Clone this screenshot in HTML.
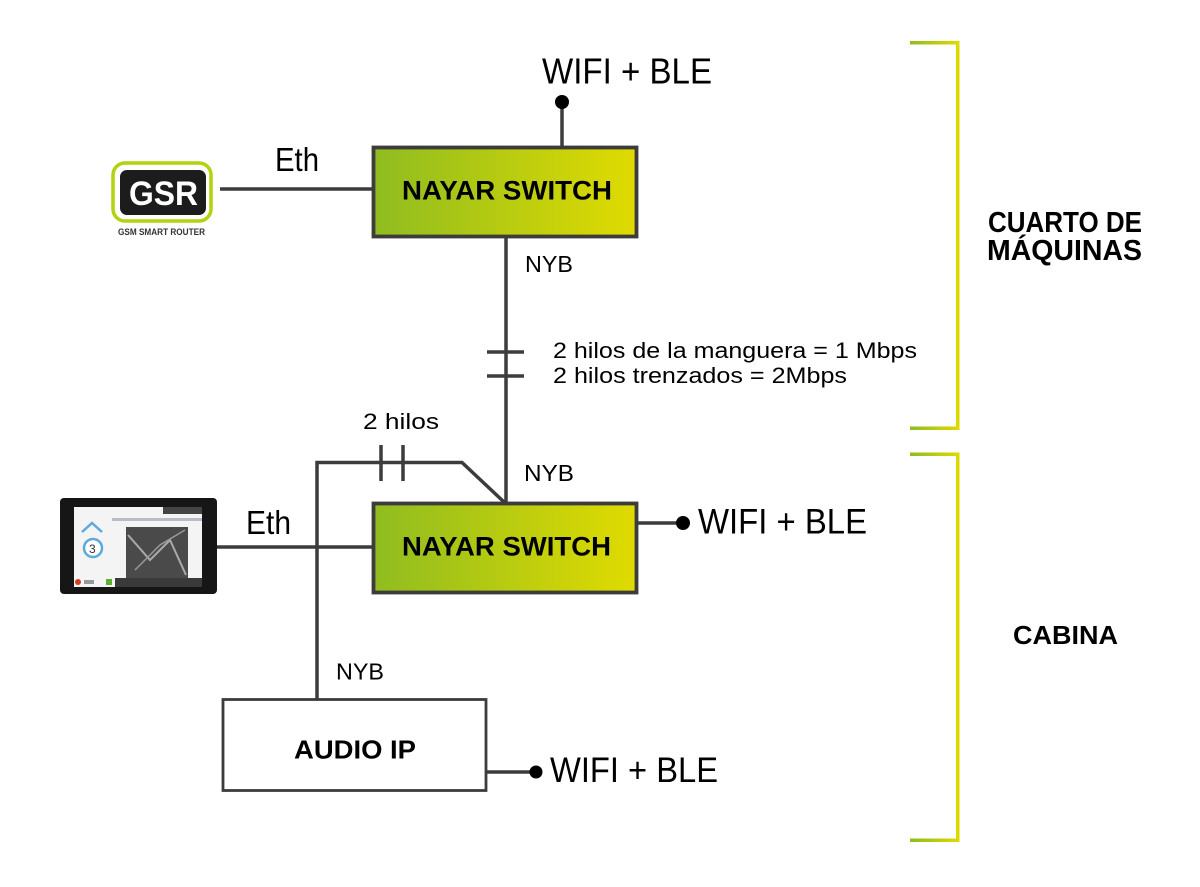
<!DOCTYPE html>
<html>
<head>
<meta charset="utf-8">
<style>
  html,body{margin:0;padding:0;background:#fff;}
  svg{display:block;}
  text{font-family:"Liberation Sans", sans-serif;}
</style>
</head>
<body>
<svg width="1200" height="887" viewBox="0 0 1200 887" xmlns="http://www.w3.org/2000/svg">
  <defs>
    <linearGradient id="sw" x1="0" y1="0" x2="1" y2="0">
      <stop offset="0" stop-color="#8fbc20"/>
      <stop offset="1" stop-color="#e0db00"/>
    </linearGradient>
    <linearGradient id="br" x1="0" y1="0" x2="1" y2="0">
      <stop offset="0" stop-color="#8fbc20"/>
      <stop offset="1" stop-color="#dcd900"/>
    </linearGradient>
  </defs>

  <!-- Brackets -->
  <rect x="910" y="41" width="48" height="3.5" fill="url(#br)"/>
  <rect x="910" y="426.5" width="48" height="3.5" fill="url(#br)"/>
  <rect x="956" y="41" width="3.5" height="389" fill="#dcd900"/>
  <rect x="910" y="452.5" width="48" height="3.5" fill="url(#br)"/>
  <rect x="910" y="838.5" width="48" height="3.5" fill="url(#br)"/>
  <rect x="956" y="452.5" width="3.5" height="389.5" fill="#dcd900"/>

  <text x="988" y="232" font-size="29" font-weight="bold" textLength="154" lengthAdjust="spacingAndGlyphs">CUARTO DE</text>
  <text x="987" y="260" font-size="29" font-weight="bold" textLength="155" lengthAdjust="spacingAndGlyphs">MÁQUINAS</text>
  <text x="1013" y="644" font-size="26" font-weight="bold" textLength="105" lengthAdjust="spacingAndGlyphs">CABINA</text>

  <!-- Connectors -->
  <g stroke="#3c3c3c" stroke-width="3.5" fill="none">
    <line x1="220" y1="189" x2="373" y2="189"/>
    <line x1="562" y1="102" x2="562" y2="147"/>
    <line x1="506" y1="237" x2="506" y2="503"/>
    <line x1="487" y1="352" x2="524" y2="352"/>
    <line x1="487" y1="376" x2="524" y2="376"/>
    <polyline points="317,699 317,462.5 462,462.5 504,502"/>
    <line x1="381" y1="445" x2="381" y2="481"/>
    <line x1="403" y1="445" x2="403" y2="481"/>
    <line x1="216" y1="547" x2="373" y2="547"/>
    <line x1="637" y1="523" x2="683" y2="523"/>
    <line x1="486" y1="772" x2="535" y2="772"/>
  </g>
  <circle cx="562" cy="102" r="7" fill="#000"/>
  <circle cx="683" cy="523" r="7" fill="#000"/>
  <circle cx="536" cy="772" r="6.5" fill="#000"/>

  <!-- Switch boxes -->
  <rect x="373.5" y="147.5" width="263" height="89" fill="url(#sw)" stroke="#3c3c3c" stroke-width="3.8"/>
  <text x="402" y="199.5" font-size="27" font-weight="bold" textLength="210" lengthAdjust="spacingAndGlyphs">NAYAR SWITCH</text>

  <rect x="373.5" y="503.5" width="263" height="89" fill="url(#sw)" stroke="#3c3c3c" stroke-width="3.8"/>
  <text x="402" y="555.5" font-size="27" font-weight="bold" textLength="209" lengthAdjust="spacingAndGlyphs">NAYAR SWITCH</text>

  <!-- Audio box -->
  <rect x="223" y="699.5" width="263" height="91" fill="#fff" stroke="#3c3c3c" stroke-width="2.8"/>
  <text x="294" y="758.5" font-size="26" font-weight="bold" textLength="122" lengthAdjust="spacingAndGlyphs">AUDIO IP</text>

  <!-- Labels -->
  <text x="542" y="83.5" font-size="36" textLength="170" lengthAdjust="spacingAndGlyphs">WIFI + BLE</text>
  <text x="698" y="533.5" font-size="35" textLength="169" lengthAdjust="spacingAndGlyphs">WIFI + BLE</text>
  <text x="550" y="782" font-size="35" textLength="168" lengthAdjust="spacingAndGlyphs">WIFI + BLE</text>

  <text x="275" y="171" font-size="33" textLength="44" lengthAdjust="spacingAndGlyphs">Eth</text>
  <text x="246" y="534" font-size="33" textLength="45" lengthAdjust="spacingAndGlyphs">Eth</text>

  <text x="525" y="272" font-size="23" textLength="48" lengthAdjust="spacingAndGlyphs">NYB</text>
  <text x="524" y="481" font-size="23" textLength="50" lengthAdjust="spacingAndGlyphs">NYB</text>
  <text x="336" y="679.5" font-size="23" textLength="48" lengthAdjust="spacingAndGlyphs">NYB</text>

  <text x="363" y="429" font-size="22" textLength="76" lengthAdjust="spacingAndGlyphs">2 hilos</text>
  <text x="553" y="358" font-size="22" textLength="364" lengthAdjust="spacingAndGlyphs">2 hilos de la manguera = 1 Mbps</text>
  <text x="553" y="383" font-size="22" textLength="294" lengthAdjust="spacingAndGlyphs">2 hilos trenzados = 2Mbps</text>

  <!-- GSR logo -->
  <rect x="113" y="163" width="98" height="58" rx="12" fill="none" stroke="#b4d20f" stroke-width="3.5"/>
  <rect x="120" y="170" width="86" height="45" rx="7" fill="#1c1c1c"/>
  <text x="129" y="205" font-size="34" font-weight="bold" fill="#fff" textLength="69" lengthAdjust="spacingAndGlyphs">GSR</text>
  <text x="118" y="235" font-size="9" font-weight="bold" fill="#333" textLength="87" lengthAdjust="spacingAndGlyphs">GSM SMART ROUTER</text>

  <!-- Tablet -->
  <rect x="60" y="498" width="157" height="96" rx="4" fill="#161616"/>
  <rect x="74" y="507" width="128" height="80" fill="#f4f4f4"/>
  <rect x="163" y="507" width="39" height="7" fill="#444"/>
  <rect x="112" y="518" width="90" height="3" fill="#b8bcc8"/>
  <path d="M82,532 L92,523 L102,532" fill="none" stroke="#5aa9e0" stroke-width="2.5"/>
  <circle cx="93" cy="548" r="9" fill="#fff" stroke="#5aa9e0" stroke-width="2.5"/>
  <text x="89" y="553" font-size="12" fill="#333">3</text>
  <rect x="126" y="527" width="62" height="52" fill="#4a4a4a"/>
  <path d="M128,535 L150,560 L170,540 L186,575" fill="none" stroke="#aaa" stroke-width="2"/>
  <path d="M135,570 L160,545 L185,530" fill="none" stroke="#999" stroke-width="1.5"/>
  <rect x="115" y="578" width="87" height="9" fill="#3a3a3a"/>
  <circle cx="78" cy="582" r="3" fill="#d04020"/>
  <rect x="84" y="580" width="10" height="4" fill="#999"/>
  <rect x="106" y="579" width="6" height="6" fill="#5cb030"/>
</svg>
</body>
</html>
